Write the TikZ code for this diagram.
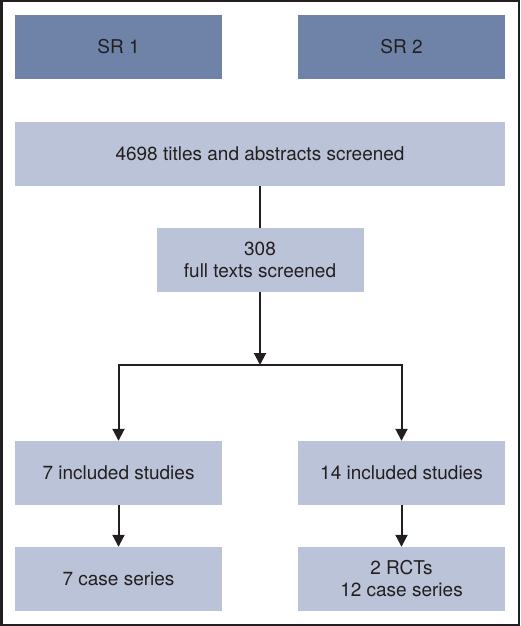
\documentclass[tikz,border=0pt]{standalone}
\usepackage{fontspec}
\setmainfont{TeX Gyre Heros}
\usetikzlibrary{arrows.meta}

\definecolor{srblue}{HTML}{6F83A8}
\definecolor{boxblue}{HTML}{BAC3D8}
\definecolor{inkgray}{HTML}{231F20}

\tikzset{
  every box/.style={minimum width=207pt, minimum height=64pt, inner sep=0pt,
    align=center, text=inkgray, font=\fontsize{19}{22}\selectfont},
  sr box/.style={every box, fill=srblue},
  step box/.style={every box, fill=boxblue},
  link/.style={draw=inkgray, line width=2pt},
}

\begin{document}
\begin{tikzpicture}[x=1pt, y=-1pt, >={Triangle[width=12pt,length=12pt]}]

\useasboundingbox (0,0) rectangle (520,626);
\draw [line width=2.5pt, draw=inkgray] (1.25,1.25) rectangle (518.75,624.75);

\foreach \l [count=\i] in {SR 1, SR 2}
  \node [sr box] (sr-\i) at (118.5+\i*283-283,47) {\l};

\node [step box, minimum width=490pt] (screened) at (260,154)
  {4698 titles and abstracts screened};
\node [step box] (fulltext) at (260,260) {308\\full texts screened};

\foreach \l [count=\i] in {7,14}
  \node [step box] (included-\i) at (118.5+\i*283-283,473) {\l{} included studies};

\node [step box] (series-1) at (118.5,579) {7 case series};
\node [step box] (series-2) at (401.5,579) {2 RCTs\\12 case series};

\coordinate (split) at (260,365);

\draw [link] (screened) -- (fulltext);
\draw [link, ->] (fulltext) -- (split);

\foreach \i in {1,2}
  \draw [link, ->] (split) -| (included-\i);

\foreach \i in {1,2}
  \draw [link, ->] (included-\i) -- (series-\i);

\end{tikzpicture}
\end{document}
